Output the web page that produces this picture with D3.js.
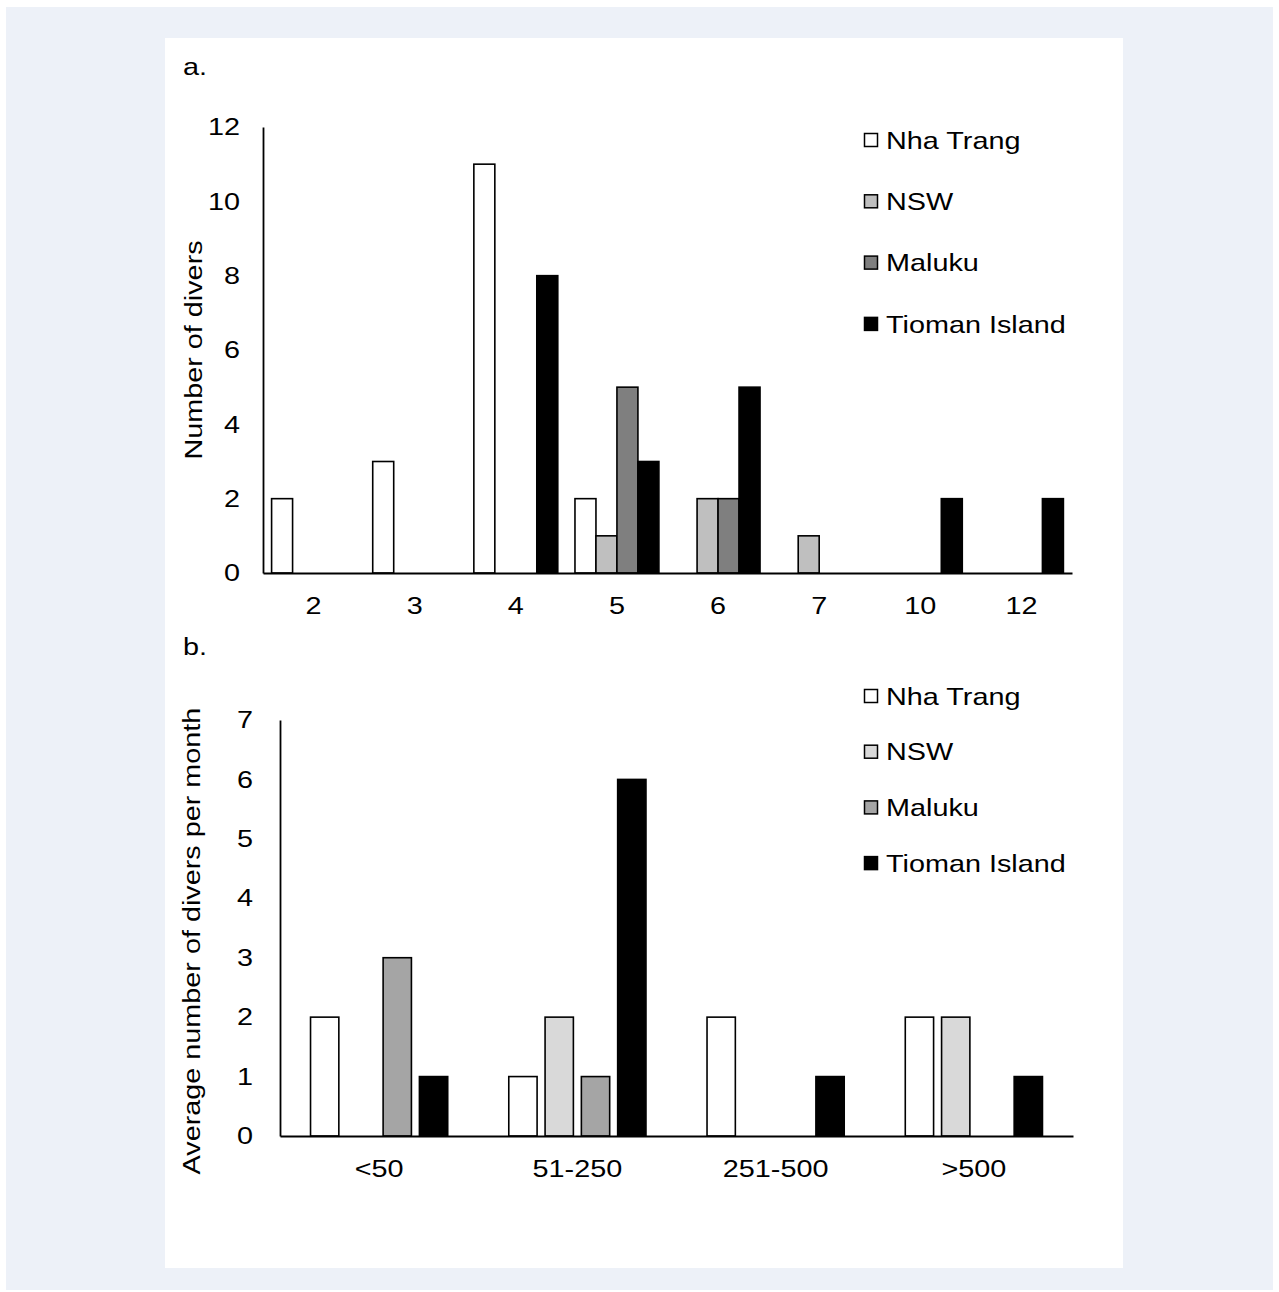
<!DOCTYPE html>
<html>
<head>
<meta charset="utf-8">
<script src="https://cdn.jsdelivr.net/npm/d3@7"></script>
<style>
  body { margin: 0; background: #fff; }
  text { font-family: "Liberation Sans", Arial, sans-serif; fill: #000; }
</style>
</head>
<body>
<svg id="fig" width="1279" height="1292"></svg>
<script>
// series shared by both panels
const sites = ['Nha Trang', 'NSW', 'Maluku', 'Tioman Island'];

// panel a
const catsA = ['2', '3', '4', '5', '6', '7', '10', '12'];
const nhaTrangA = [2, 3, 11, 2, 0, 0, 0, 0];
const nswA      = [0, 0, 0, 1, 2, 1, 0, 0];
const malukuA   = [0, 0, 0, 5, 2, 0, 0, 0];
const tiomanA   = [0, 0, 8, 3, 5, 0, 2, 2];
const ticksA = [0, 2, 4, 6, 8, 10, 12];

// panel b
const catsB = ['<50', '51-250', '251-500', '>500'];
const nhaTrangB = [2, 1, 2, 2];
const nswB      = [0, 2, 0, 2];
const malukuB   = [3, 1, 0, 0];
const tiomanB   = [1, 6, 1, 1];
const ticksB = [0, 1, 2, 3, 4, 5, 6, 7];

const SX = 1.2;       // glyphs in the source are drawn wider than normal
const FS = 24;

const svg = d3.select('#fig');
svg.append('rect').attr('x', 6).attr('y', 7).attr('width', 1267).attr('height', 1283).attr('fill', '#edf1f8');
svg.append('rect').attr('x', 165).attr('y', 38).attr('width', 958).attr('height', 1230).attr('fill', '#fff');

function label(g, x, y, txt, opts) {
    opts = opts || {};
    const rot = opts.rotate ? ` rotate(${opts.rotate})` : '';
    return g.append('text')
        .attr('transform', `translate(${x},${y})${rot} scale(${SX},1)`)
        .attr('text-anchor', opts.anchor || 'start')
        .attr('dy', opts.dy || '0')
        .style('font-size', FS + 'px')
        .text(txt);
}

function panel(cfg) {
    const g = svg.append('g');
    const rows = cfg.cats.map((c, i) => ({cat: c, vals: cfg.series.map(s => s[i])}));

    const x0 = d3.scaleBand().domain(cfg.cats).range([cfg.left, cfg.right]);
    const bw = x0.bandwidth();
    const x1 = d3.scaleBand().domain(sites)
        .range([bw * cfg.groupPad, bw * (1 - cfg.groupPad)])
        .paddingInner(cfg.barGap);
    const y = d3.scaleLinear().domain([0, cfg.max]).range([cfg.bottom, cfg.top]);

    g.selectAll('g.cat')
        .data(rows)
        .join('g')
        .attr('class', 'cat')
        .attr('transform', d => `translate(${x0(d.cat)},0)`)
        .selectAll('rect')
        .data(d => d.vals.map((v, i) => ({site: sites[i], v: v})).filter(e => e.v > 0))
        .join('rect')
        .attr('x', d => x1(d.site))
        .attr('width', x1.bandwidth())
        .attr('y', d => y(d.v))
        .attr('height', d => y(0) - y(d.v))
        .attr('fill', d => cfg.colors[sites.indexOf(d.site)])
        .attr('stroke', '#000')
        .attr('stroke-width', 1.6);

    const yAxis = g.append('g')
        .attr('transform', `translate(${cfg.left},0)`)
        .call(d3.axisLeft(y).tickValues(cfg.ticks).tickFormat(d3.format('d'))
            .tickSize(0).tickSizeOuter(0).tickPadding(cfg.yPad));
    yAxis.select('.domain').attr('stroke', '#000').attr('stroke-width', 1.8);
    yAxis.selectAll('text')
        .style('font-size', FS + 'px')
        .attr('x', -cfg.yPad / SX)
        .attr('transform', `scale(${SX},1)`);

    const xAxis = g.append('g')
        .attr('transform', `translate(0,${cfg.bottom})`)
        .call(d3.axisBottom(x0).tickSize(0).tickSizeOuter(0).tickPadding(cfg.xPad));
    xAxis.select('.domain').attr('stroke', '#000').attr('stroke-width', 1.8);
    xAxis.selectAll('text')
        .style('font-size', FS + 'px')
        .attr('transform', `scale(${SX},1)`);
    g.selectAll('.tick text').attr('fill', '#000');

    label(g, cfg.titleX, (cfg.top + cfg.bottom) / 2 + cfg.titleShift, cfg.ytitle, {rotate: -90, anchor: 'middle'});
    label(g, 183, cfg.tagY, cfg.tag);

    const leg = g.append('g');
    sites.forEach((s, i) => {
        const cy = cfg.legY + i * cfg.legStep;
        leg.append('rect')
            .attr('x', 864.5).attr('y', cy - 6.5)
            .attr('width', 13).attr('height', 13)
            .attr('fill', cfg.colors[i])
            .attr('stroke', '#000').attr('stroke-width', 1.5);
        label(leg, 886, cy, s, {dy: '0.36em'});
    });
}

panel({
    cats: catsA, series: [nhaTrangA, nswA, malukuA, tiomanA], ticks: ticksA, max: 12,
    colors: ['#ffffff', '#bfbfbf', '#7f7f7f', '#000000'],
    left: 263, right: 1072, top: 127, bottom: 573,
    groupPad: 0.085, barGap: 0, yPad: 23, xPad: 24,
    ytitle: 'Number of divers', titleX: 202, titleShift: 0,
    tag: 'a.', tagY: 75, legY: 140, legStep: 61.3
});

panel({
    cats: catsB, series: [nhaTrangB, nswB, malukuB, tiomanB], ticks: ticksB, max: 7,
    colors: ['#ffffff', '#d9d9d9', '#a5a5a5', '#000000'],
    left: 280, right: 1073, top: 720, bottom: 1136,
    groupPad: 0.154, barGap: 0.22, yPad: 27, xPad: 24,
    ytitle: 'Average number of divers per month', titleX: 200, titleShift: 13,
    tag: 'b.', tagY: 655, legY: 696, legStep: 55.7
});
</script>
</body>
</html>
